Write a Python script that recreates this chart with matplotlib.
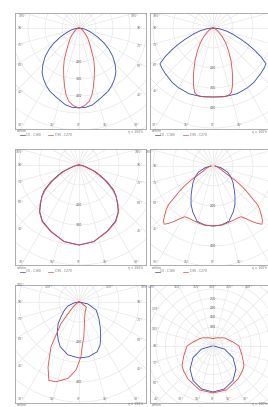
import numpy as np
import matplotlib.pyplot as plt
from matplotlib.lines import Line2D

W, H = 268, 407

# luminous intensity, cd/klm, against gamma angle in degrees
# panel 1 (symmetric halves)
p1_gamma_c0 = [0, 5, 10, 18, 25, 30, 35, 40, 45, 50, 55, 59, 64, 69, 75, 80, 90]
p1_c0 = [470, 468, 459, 429, 409, 388, 365, 338, 300, 259, 212, 171, 124, 82, 50, 29, 0]
p1_gamma_c90 = [0, 4, 8, 11, 14, 17, 21, 25, 33, 40, 45, 60, 75, 90]
p1_c90 = [470, 459, 435, 400, 353, 306, 253, 206, 118, 82, 59, 24, 9, 0]

# panel 2
p2_gamma_c0 = [0, 10, 20, 30, 37, 46, 52, 56, 59, 62, 65, 68, 73, 78, 84, 90]
p2_c0 = [345, 348, 350, 345, 340, 330, 325, 320, 280, 235, 190, 150, 100, 65, 30, 0]
p2_gamma_c90 = [0, 8, 13, 16, 19, 22, 25, 29, 34, 40, 48, 60, 75, 90]
p2_c90 = [345, 348, 345, 335, 300, 262, 225, 185, 140, 100, 60, 25, 8, 0]

# panel 3
p3_gamma = [0, 11, 23, 33, 40, 45, 50, 54, 59, 63, 68, 75, 82, 90]
p3_c0 = [400, 390, 360, 335, 305, 272, 242, 215, 165, 125, 88, 32, 15, 0]
p3_c90 = [400, 390, 362, 338, 308, 275, 240, 205, 155, 115, 75, 30, 12, 0]

# panel 4
p4_gamma_c0 = [0, 8, 16, 24, 30, 37, 44, 51, 58, 67, 78, 90]
p4_c0 = [300, 298, 288, 250, 220, 182, 150, 128, 105, 80, 40, 10]
p4_gamma_c90 = [0, 8, 13, 20, 25, 29, 32, 35, 38, 40, 42, 44, 47, 49, 51, 53, 55, 57, 59, 62, 70, 80, 90]
p4_c90 = [300, 298, 295, 290, 288, 290, 310, 338, 365, 380, 370, 350, 320, 295, 245,
          210, 175, 135, 90, 60, 35, 20, 10]

# panel 5 (asymmetric, negative gamma = left side)
p5_gamma_c0 = [-90, -80, -70, -60, -51, -44, -36, -29, -23, -12, 0, 10, 20, 26, 32, 40, 50, 65, 78, 90]
p5_c0 = [0, 25, 60, 85, 115, 150, 185, 215, 242, 270, 280, 278, 265, 240, 205, 165, 130, 95, 45, 0]
p5_gamma_c90 = [-90, -75, -60, -50, -40, -32, -25.5, -21, -16, -8, -2.5, 0, 2, 4, 8, 15, 30, 55, 70, 90]
p5_c90 = [0, 5, 15, 40, 140, 265, 360, 420, 415, 385, 340, 300, 275, 225, 175, 105, 60, 45, 10, 0]

# panel 6
p6_gamma_c0 = [0, 15, 30, 45, 60, 75, 90]
p6_c0 = [242, 234, 210, 171, 121, 63, 5]
p6_gamma_c90 = [0, 17, 37, 50, 58, 71, 90, 101, 125, 150, 180]
p6_c90 = [247, 242, 218, 203, 192, 163, 137, 108, 74, 50, 40]

legend_labels = ["C0 - C180", "C90 - C270"]
unit_label = "cd/klm"
eta_label = "η = 100%"

BLUE = '#3548a8'
RED = '#e04848'
GRID = '#e2e2e2'
FRAME = '#a0a0a0'
TXT = '#707070'


def polar_xy(gamma, inten, mirror=True):
    g = np.radians(np.asarray(gamma, float))
    i = np.asarray(inten, float)
    x, y = i * np.sin(g), -i * np.cos(g)
    if mirror:
        x = np.concatenate([-x[::-1], x])
        y = np.concatenate([y[::-1], y])
    return x, y


fig = plt.figure(figsize=(W / 100, H / 100), dpi=100)


def draw_panel(frame, origin, step_val, step_px, curves, label_steps, up=False):
    left, top, right, bottom = frame
    ox, oy = origin
    k = step_px / step_val
    ax = fig.add_axes([left / W, 1 - bottom / H, (right - left) / W, (bottom - top) / H])
    x0, x1 = (left - ox) / k, (right - ox) / k
    y0, y1 = (oy - bottom) / k, (oy - top) / k
    ax.set_xlim(x0, x1)
    ax.set_ylim(y0, y1)
    ax.set_xticks([])
    ax.set_yticks([])
    for s in ax.spines.values():
        s.set_color(FRAME)
        s.set_linewidth(0.6)

    rmax = np.hypot(max(-x0, x1), max(-y0, y1))
    t = np.linspace(0, 2 * np.pi, 240)
    for r in np.arange(step_val, rmax + step_val, step_val):
        ax.plot(r * np.cos(t), r * np.sin(t), color=GRID, lw=0.4, zorder=1)
    for g in range(0, 360, 15):
        a = np.radians(g)
        ax.plot([0, rmax * np.sin(a)], [0, -rmax * np.cos(a)], color=GRID, lw=0.4, zorder=1)

    # angle labels where the rays meet the frame
    for g in range(0, 181, 15):
        for side in ([1] if g in (0, 180) else [-1, 1]):
            a = np.radians(g)
            dx, dy = side * np.sin(a), -np.cos(a)
            tx = (x1 if dx > 0 else x0) / dx if abs(dx) > 1e-9 else np.inf
            ty = (y1 if dy > 0 else y0) / dy if abs(dy) > 1e-9 else np.inf
            tt = min(tx, ty)
            if tt * k < 35:
                continue
            hx, hy = tt * dx, tt * dy
            if tx < ty:
                hx -= np.sign(dx) * 6 / k
            else:
                hy -= np.sign(dy) * 3 / k
            if ox + hx * k > W - 5:   # off the page
                continue
            ax.text(hx, hy, f"{g}°", fontsize=2.3, color=TXT, ha='center', va='center', zorder=3)

    for n in label_steps:
        yv = n * step_val if up else -n * step_val
        ax.text(0, yv, f"{n * step_val}", fontsize=2.3, color='#505050',
                ha='center', va='center', zorder=3)

    for (xs, ys), col in curves:
        ax.plot(xs, ys, color=col, lw=0.6, zorder=4 if col == RED else 3.5)

    # captions under the frame
    cy = min(bottom + 3, H - 2.5)
    fig.text((left + 2) / W, 1 - cy / H, unit_label, fontsize=2.2, color=TXT,
             ha='left', va='center')
    fig.text(min(right - 3, W - 1) / W, 1 - cy / H, eta_label, fontsize=2.2, color=TXT,
             ha='right', va='center')
    if bottom + 6.5 < H - 2:
        ly = 1 - (bottom + 6.5) / H
        fig.add_artist(Line2D([(left + 5) / W, (left + 10) / W], [ly, ly], color=BLUE, lw=0.5))
        fig.text((left + 11) / W, ly, legend_labels[0], fontsize=2.2, color=TXT, va='center')
        fig.add_artist(Line2D([(left + 33) / W, (left + 38) / W], [ly, ly], color=RED, lw=0.5))
        fig.text((left + 40) / W, ly, legend_labels[1], fontsize=2.2, color=TXT, va='center')


col_x = [(15, 145.5, 79), (149.5, 280, 213)]
rows = [(13, 128.5), (149, 265), (284.5, 402.5)]

panels = [
    dict(origin_dy=15, step_val=100, step_px=17, label_steps=[2, 3, 4],
         curves=[(polar_xy(p1_gamma_c0, p1_c0), BLUE), (polar_xy(p1_gamma_c90, p1_c90), RED)]),
    dict(origin_dy=15, step_val=100, step_px=20, label_steps=[2, 3, 4],
         curves=[(polar_xy(p2_gamma_c0, p2_c0), BLUE), (polar_xy(p2_gamma_c90, p2_c90), RED)]),
    dict(origin_dy=16, step_val=100, step_px=20, label_steps=[2, 3],
         curves=[(polar_xy(p3_gamma, p3_c0), BLUE), (polar_xy(p3_gamma, p3_c90), RED)]),
    dict(origin_dy=17, step_val=100, step_px=20, label_steps=[2, 4],
         curves=[(polar_xy(p4_gamma_c0, p4_c0), BLUE), (polar_xy(p4_gamma_c90, p4_c90), RED)]),
    dict(origin_dy=17.5, step_val=100, step_px=20, label_steps=[2, 4],
         curves=[(polar_xy(p5_gamma_c0, p5_c0, mirror=False), BLUE),
                 (polar_xy(p5_gamma_c90, p5_c90, mirror=False), RED)]),
    dict(origin_dy=61.5, step_val=50, step_px=9.5, label_steps=[2, 3, 4, 5], up=True,
         curves=[(polar_xy(p6_gamma_c0, p6_c0), BLUE), (polar_xy(p6_gamma_c90, p6_c90), RED)]),
]

for idx, p in enumerate(panels):
    r, c = divmod(idx, 2)
    left, right, ox = col_x[c]
    top, bottom = rows[r]
    draw_panel((left, top, right, bottom), (ox, top + p['origin_dy']), p['step_val'], p['step_px'],
               p['curves'], p['label_steps'], up=p.get('up', False))

fig.savefig('out.png', dpi=100)
